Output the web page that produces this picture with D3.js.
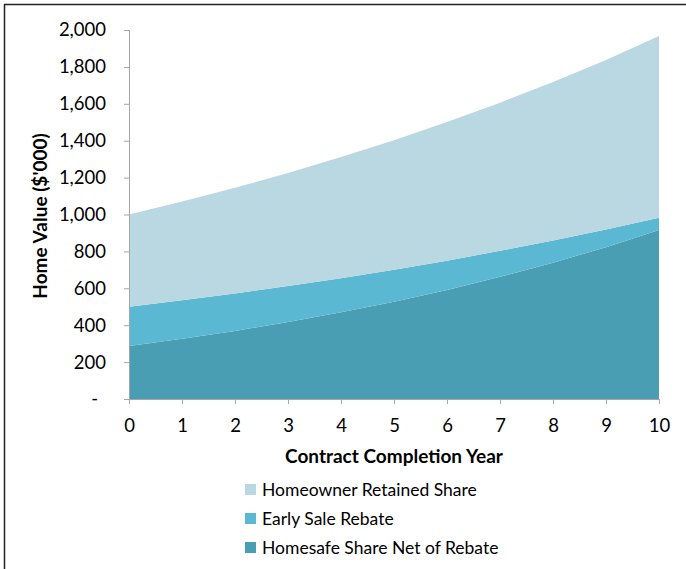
<!DOCTYPE html>
<html>
<head>
<meta charset="utf-8">
<script src="https://cdn.jsdelivr.net/npm/d3@7/dist/d3.min.js"></script>
<style>
  html, body { margin: 0; padding: 0; background: #fff; }
  svg { display: block; }
  text { font-family: Lato, "Open Sans", sans-serif; fill: #000; }
</style>
</head>
<body>
<svg id="chart" width="686" height="569"></svg>
<script>
// Contract completion years
const years = [0, 1, 2, 3, 4, 5, 6, 7, 8, 9, 10];

// Stacked components of home value ($'000), bottom to top
const homesafeNet = [287, 326, 369, 418, 470, 527, 591, 662, 739, 823, 916];
const earlySaleRebate = [213, 209, 203, 195, 185, 174, 159, 141, 120, 96, 67];
const homeownerRetained = [500, 535, 573, 612, 656, 702, 751, 803, 859, 919, 984];

const seriesNames = ["Homesafe Share Net of Rebate", "Early Sale Rebate", "Homeowner Retained Share"];
const seriesColors = ["#4a9eb4", "#5ab8d2", "#b9d8e2"];
const yTicks = [0, 200, 400, 600, 800, 1000, 1200, 1400, 1600, 1800, 2000];

const svg = d3.select("#chart");
const W = 686, H = 569;
const m = { left: 129, right: 659, top: 30, bottom: 399 };

// frame lines at top and left
svg.append("line").attr("x1", 4).attr("x2", W).attr("y1", 4.5).attr("y2", 4.5)
  .attr("stroke", "#222").attr("stroke-width", 1.5);
svg.append("line").attr("x1", 4.5).attr("x2", 4.5).attr("y1", 4).attr("y2", H)
  .attr("stroke", "#222").attr("stroke-width", 1.5);

const x = d3.scaleLinear().domain([0, 10]).range([m.left, m.right]);
const y = d3.scaleLinear().domain([0, 2000]).range([m.bottom, m.top]);

const rows = years.map((yr, i) => ({
  year: yr,
  net: homesafeNet[i],
  rebate: earlySaleRebate[i],
  retained: homeownerRetained[i]
}));
const stack = d3.stack().keys(["net", "rebate", "retained"]);
const layers = stack(rows);

const area = d3.area()
  .x(d => x(d.data.year))
  .y0(d => y(d[0]))
  .y1(d => y(d[1]));

svg.append("g").selectAll("path")
  .data(layers)
  .join("path")
  .attr("d", area)
  .attr("fill", (d, i) => seriesColors[i]);

// y axis (accounting style: zero shown as a dash)
const yAxis = d3.axisLeft(y)
  .tickValues(yTicks)
  .tickSize(5)
  .tickPadding(18)
  .tickFormat(v => v === 0 ? "-" : d3.format(",")(v));
const gy = svg.append("g").attr("transform", `translate(${m.left},0)`).call(yAxis);
gy.select(".domain").attr("stroke", "#a6a6a6");
gy.selectAll(".tick line").attr("stroke", "#a6a6a6");
gy.selectAll(".tick text").attr("font-size", 18.5).attr("font-family", "Lato, sans-serif").attr("fill", "#000")
  .attr("dx", v => v === 0 ? -8 : 0);

// x axis
const xAxis = d3.axisBottom(x)
  .tickValues(years)
  .tickSize(5)
  .tickPadding(15)
  .tickFormat(d3.format("d"));
const gx = svg.append("g").attr("transform", `translate(0,${m.bottom})`).call(xAxis);
gx.select(".domain").attr("stroke", "#a6a6a6");
gx.selectAll(".tick line").attr("stroke", "#a6a6a6");
gx.selectAll(".tick text").attr("font-size", 18.5).attr("font-family", "Lato, sans-serif").attr("fill", "#000");

// axis titles
svg.append("text")
  .attr("x", 394).attr("y", 463)
  .attr("text-anchor", "middle")
  .attr("font-size", 19).attr("font-weight", "bold")
  .text("Contract Completion Year");

svg.append("text")
  .attr("transform", `translate(47,216) rotate(-90)`)
  .attr("text-anchor", "middle")
  .attr("font-size", 19).attr("font-weight", "bold")
  .text("Home Value ($'000)");

// legend, top entry is the top layer
const legendItems = [2, 1, 0];
const lg = svg.append("g");
legendItems.forEach((si, k) => {
  const cy = 490 + k * 29;
  lg.append("rect").attr("x", 245).attr("y", cy - 6).attr("width", 11).attr("height", 11)
    .attr("fill", seriesColors[si]);
  lg.append("text").attr("x", 262).attr("y", cy + 6)
    .attr("font-size", 17.5)
    .text(seriesNames[si]);
});
</script>
</body>
</html>
